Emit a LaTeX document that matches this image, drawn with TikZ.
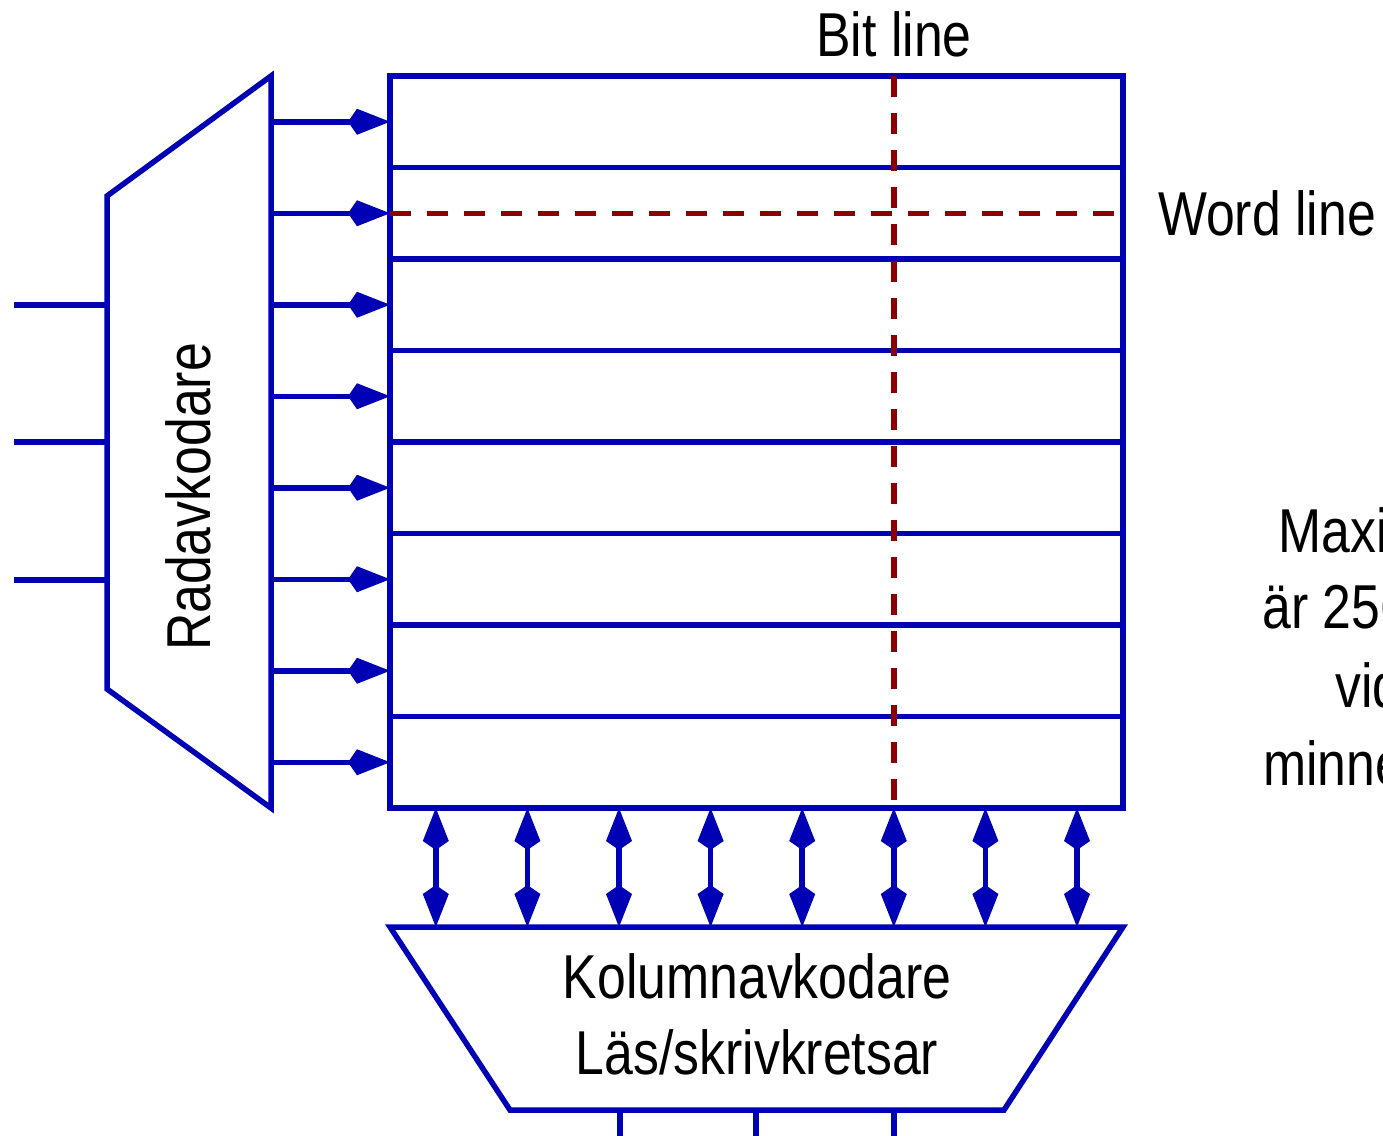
\documentclass[tikz,border=0pt]{standalone}
\usepackage{fontspec}
\setmainfont{Liberation Sans}[FakeStretch=0.835]
\usetikzlibrary{arrows.meta, positioning, calc}
\usepackage{xcolor}
\definecolor{Wire}{HTML}{0000B4}
\definecolor{Probe}{HTML}{8B0000}

\begin{document}
\begin{tikzpicture}[x=1pt, y=-1pt,
    wire/.style={draw=Wire, line width=5.5pt},
    warrow/.style={-{Kite[length=42pt,width=26pt,inset=9pt]}, line width=5.5pt, color=Wire},
    biarrow/.style={{Kite[length=42pt,width=26pt,inset=9pt]}-{Kite[length=42pt,width=26pt,inset=9pt]}, line width=5.5pt, color=Wire},
    probe/.style={draw=Probe, line width=5.5pt, dash pattern=on 21pt off 16pt},
    lbl/.style={font=\fontsize{62}{76}\selectfont, inner sep=0pt, align=center}
  ]
  \useasboundingbox (0,0) rectangle (1383,1135);

  % Memory array
  \coordinate (nw) at (390,76);
  \coordinate (se) at (1123,808);
  \draw[wire] (nw) rectangle (se);
  \foreach \r in {1,...,7}
    \draw[wire] (390,76+91.5*\r) -- (1123,76+91.5*\r);

  % Row decoder
  \coordinate (rd1) at (271,76);
  \coordinate (rd2) at (107,196);
  \coordinate (rd3) at (107,689);
  \coordinate (rd4) at (271,808);
  \draw[wire, line join=miter] (rd1) -- (rd2) -- (rd3) -- (rd4) -- cycle;
  \node[lbl, rotate=90] (rowdec) at (188,497) {Radavkodare};

  % Address inputs
  \foreach \y [count=\i] in {305,442,580} {
    \coordinate (ain\i) at (14,\y);
    \coordinate (aend\i) at (107,\y);
    \draw[wire] (ain\i) -- (aend\i);
  }

  % Word line drivers
  \foreach \r in {0,...,7} {
    \coordinate (wd\r) at (271,121.75+91.5*\r);
    \coordinate (wa\r) at (390,121.75+91.5*\r);
    \draw[warrow] (wd\r) -- (wa\r);
  }

  % Column decoder
  \coordinate (cd1) at (390,927);
  \coordinate (cd2) at (1123,927);
  \coordinate (cd3) at (1004,1110);
  \coordinate (cd4) at (510,1110);
  \draw[wire, line join=miter] (cd1) -- (cd2) -- (cd3) -- (cd4) -- cycle;
  \node[lbl] (coldec) at (757,1014) {Kolumnavkodare\\Läs/skrivkretsar};

  % Bit lines to column decoder
  \foreach \c in {0,...,7} {
    \coordinate (bt\c) at (435.8+91.6*\c,808);
    \coordinate (bb\c) at (435.8+91.6*\c,927);
    \draw[biarrow] (bt\c) -- (bb\c);
  }

  % Data outputs
  \foreach \x [count=\i] in {620,756,894} {
    \coordinate (dt\i) at (\x,1110);
    \coordinate (db\i) at (\x,1140);
    \draw[wire] (dt\i) -- (db\i);
  }

  % Selected bit line and word line
  \coordinate (blt) at (894,76);
  \coordinate (blb) at (894,808);
  \coordinate (wll) at (390,213.25);
  \coordinate (wlr) at (1123,213.25);
  \draw[probe] (blt) -- (blb);
  \draw[probe] (wll) -- (wlr);
  \node[lbl, above=19pt of blt] (bitlbl) {Bit line};
  \node[lbl, anchor=west] (wordlbl) at (1158,213.25) {Word line};

  % Side note (cut off at the edge)
  \node[lbl, anchor=west] (note1) at (1278,530) {Maxi};
  \node[lbl, anchor=west] (note2) at (1262,607) {är 256};
  \node[lbl, anchor=west] (note3) at (1335,685) {vid};
  \node[lbl, anchor=west] (note4) at (1263,763) {minne};
\end{tikzpicture}
\end{document}
